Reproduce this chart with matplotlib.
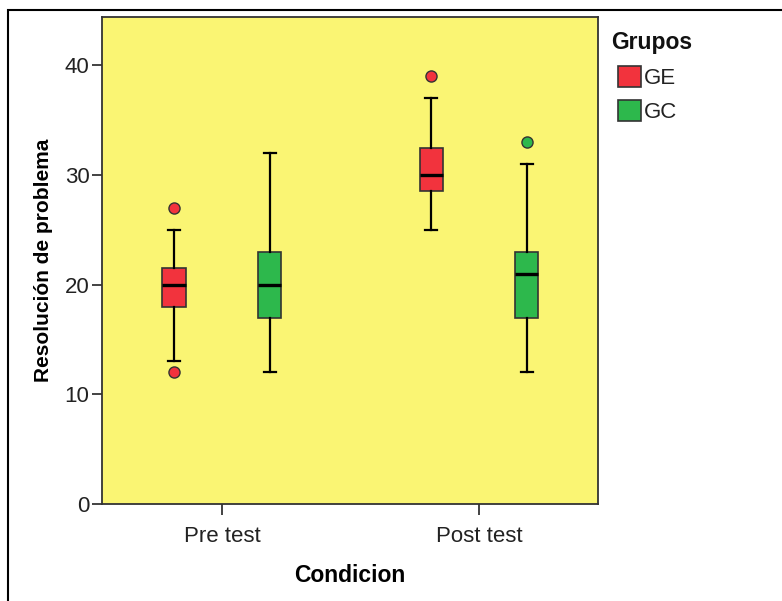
import matplotlib.pyplot as plt
from matplotlib.patches import Rectangle, Patch

plt.rcParams['font.family'] = ['Liberation Sans', 'DejaVu Sans']

conditions = ['Pre test', 'Post test']
groups = ['GE', 'GC']
group_colors = ['#F2333D', '#2DB84C']

# box stats: [Pre test, Post test] per group
q1 = {'GE': [18, 28.5], 'GC': [17, 17]}
med = {'GE': [20, 30], 'GC': [20, 21]}
q3 = {'GE': [21.5, 32.5], 'GC': [23, 23]}
whislo = {'GE': [13, 25], 'GC': [12, 12]}
whishi = {'GE': [25, 37], 'GC': [32, 31]}
fliers = {'GE': [[27, 12], [39]], 'GC': [[], [33]]}

yticks = [0, 10, 20, 30, 40]

fig = plt.figure(figsize=(7.82, 6.01), dpi=100)
ax = fig.add_axes([0.1304, 0.1614, 0.6343, 0.8103])
ax.set_facecolor('#FAF573')

offset = 0.185
for g, (name, color) in enumerate(zip(groups, group_colors)):
    stats = []
    for i in range(len(conditions)):
        stats.append({'q1': q1[name][i], 'med': med[name][i], 'q3': q3[name][i],
                      'whislo': whislo[name][i], 'whishi': whishi[name][i],
                      'fliers': fliers[name][i]})
    pos = [i + (-offset if g == 0 else offset) for i in range(len(conditions))]
    ax.bxp(stats, positions=pos, widths=0.093, capwidths=0.047, patch_artist=True,
           showfliers=True, manage_ticks=False,
           boxprops=dict(facecolor=color, edgecolor='#333333', linewidth=1.2),
           medianprops=dict(color='black', linewidth=2.4),
           whiskerprops=dict(color='black', linewidth=1.6),
           capprops=dict(color='black', linewidth=1.6),
           flierprops=dict(marker='o', markerfacecolor=color, markeredgecolor='#333333',
                           markersize=8, markeredgewidth=1.0))

ax.set_xlim(-0.467, 1.463)
ax.set_ylim(0, 44.4)
ax.set_xticks(range(len(conditions)))
ax.set_xticklabels(conditions)
ax.set_yticks(yticks)
ax.tick_params(axis='both', labelsize=16, colors='#222222', direction='out')
ax.tick_params(axis='y', length=7, width=1.2, pad=2)
ax.tick_params(axis='x', length=8, width=1.2, pad=8)
for sp in ax.spines.values():
    sp.set_color('#333333')
    sp.set_linewidth(1.3)

ax.set_xlabel('Condicion', fontsize=16.5, fontweight='bold', labelpad=12)
ax.set_ylabel('Resolución de problema', fontsize=15, fontweight='bold', labelpad=8)

# legend: title drawn apart so the gap below it matches
fig.text(611 / 782, 1 - 42 / 601, 'Grupos', fontsize=16.5, fontweight='bold',
         ha='left', va='center', color='#111111')
handles = [Patch(facecolor=c, edgecolor='#333333', linewidth=1.2) for c in group_colors]
leg = fig.legend(handles, groups, loc='upper left',
                 bbox_to_anchor=(618 / 782, 1 - 66 / 601), frameon=False, fontsize=16,
                 handlelength=1.05, handleheight=1.05, handletextpad=0.1,
                 labelspacing=0.5, borderpad=0, borderaxespad=0)
for t in leg.get_texts():
    t.set_color('#222222')

# outer frame of the output window
fig.patches.append(Rectangle((0.0102, -0.1), 1.2, 1.0833, transform=fig.transFigure,
                             fill=False, edgecolor='black', linewidth=1.5))

fig.savefig('out.png', dpi=100)
